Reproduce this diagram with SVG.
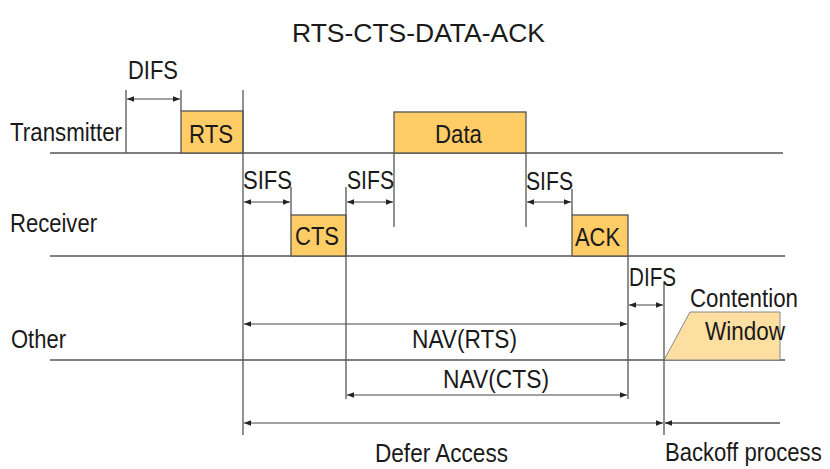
<svg xmlns="http://www.w3.org/2000/svg" width="830" height="469" viewBox="0 0 830 469">
<defs>
<style>
text{font-family:"Liberation Sans",Arial,sans-serif;font-size:26px;fill:#1a1a1a}
.ln{stroke:#555;stroke-width:1.3;fill:none}
.ar{stroke:#444;stroke-width:1.2;fill:none;marker-start:url(#ah);marker-end:url(#ah)}
.box{fill:#FFCC66;stroke:#555;stroke-width:1.3}
</style>
<marker id="ah" viewBox="0 0 8 8" refX="8" refY="4" markerWidth="7" markerHeight="7" markerUnits="userSpaceOnUse" orient="auto-start-reverse">
<path d="M0,0.8 L8,4 L0,7.2 Z" fill="#222"/>
</marker>
</defs>
<rect width="830" height="469" fill="#fff"/>
<text x="292" y="42" font-size="30" textLength="253" lengthAdjust="spacingAndGlyphs">RTS-CTS-DATA-ACK</text>

<g id="timelines">
<line class="ln" x1="50" y1="153" x2="783" y2="153"/>
<line class="ln" x1="50" y1="256" x2="785" y2="256"/>
<line class="ln" x1="50" y1="360" x2="785" y2="360"/>
<text x="10" y="141" textLength="112" lengthAdjust="spacingAndGlyphs">Transmitter</text>
<text x="10" y="232" textLength="87" lengthAdjust="spacingAndGlyphs">Receiver</text>
<text x="11" y="348" textLength="55" lengthAdjust="spacingAndGlyphs">Other</text>
</g>

<g id="rts"><rect class="box" x="181" y="111" width="62" height="42"/><text x="189" y="143" textLength="44" lengthAdjust="spacingAndGlyphs">RTS</text></g>
<g id="data"><rect class="box" x="394" y="112" width="132" height="41"/><text x="435" y="143" textLength="47" lengthAdjust="spacingAndGlyphs">Data</text></g>
<g id="cts"><rect class="box" x="291" y="215" width="55" height="41"/><text x="295" y="245" textLength="44" lengthAdjust="spacingAndGlyphs">CTS</text></g>
<g id="ack"><rect class="box" x="572" y="215" width="56" height="41"/><text x="575" y="246" textLength="45" lengthAdjust="spacingAndGlyphs">ACK</text></g>
<g id="contention">
<path d="M664,360 L690,312 L780,312 L780,360 Z" fill="#FDDFA2" stroke="#888" stroke-width="1"/>
<text x="690" y="307" textLength="108" lengthAdjust="spacingAndGlyphs">Contention</text>
<text x="705" y="340" textLength="80" lengthAdjust="spacingAndGlyphs">Window</text>
</g>

<g id="connectors">
<line class="ln" x1="126" y1="90" x2="126" y2="153"/>
<line class="ln" x1="181" y1="90" x2="181" y2="111"/>
<line class="ln" x1="243" y1="90" x2="243" y2="435"/>
<line class="ln" x1="291" y1="187" x2="291" y2="215"/>
<line class="ln" x1="346" y1="187" x2="346" y2="399"/>
<line class="ln" x1="394" y1="153" x2="394" y2="227"/>
<line class="ln" x1="526" y1="153" x2="526" y2="227"/>
<line class="ln" x1="572" y1="189" x2="572" y2="215"/>
<line class="ln" x1="628" y1="256" x2="628" y2="399"/>
<line class="ln" x1="664" y1="283" x2="664" y2="435"/>

<line class="ar" x1="127" y1="99" x2="180" y2="99"/>
<line class="ar" x1="244" y1="202" x2="290" y2="202"/>
<line class="ar" x1="347" y1="202" x2="393" y2="202"/>
<line class="ar" x1="527" y1="202" x2="571" y2="202"/>
<line class="ar" x1="629" y1="305" x2="663" y2="305"/>
<line class="ar" x1="244" y1="324" x2="627" y2="324"/>
<line class="ar" x1="347" y1="395" x2="627" y2="395"/>
<line class="ar" x1="244" y1="423" x2="663" y2="423"/>
<line class="ln" x1="665" y1="423" x2="780" y2="423" style="marker-start:url(#ah)"/>
</g>

<g id="labels">
<text x="128" y="79" textLength="50" lengthAdjust="spacingAndGlyphs">DIFS</text>
<text x="243" y="189" textLength="49" lengthAdjust="spacingAndGlyphs">SIFS</text>
<text x="347" y="189" textLength="47" lengthAdjust="spacingAndGlyphs">SIFS</text>
<text x="526" y="190" textLength="47" lengthAdjust="spacingAndGlyphs">SIFS</text>
<text x="629" y="286" textLength="47" lengthAdjust="spacingAndGlyphs">DIFS</text>
<text x="412" y="348" textLength="105" lengthAdjust="spacingAndGlyphs">NAV(RTS)</text>
<text x="443" y="388" textLength="106" lengthAdjust="spacingAndGlyphs">NAV(CTS)</text>
<text x="375" y="462" textLength="133" lengthAdjust="spacingAndGlyphs">Defer Access</text>
<text transform="translate(665,461) scale(0.85,1)" x="0" y="0" font-size="26">Backoff process</text>
</g>
</svg>
